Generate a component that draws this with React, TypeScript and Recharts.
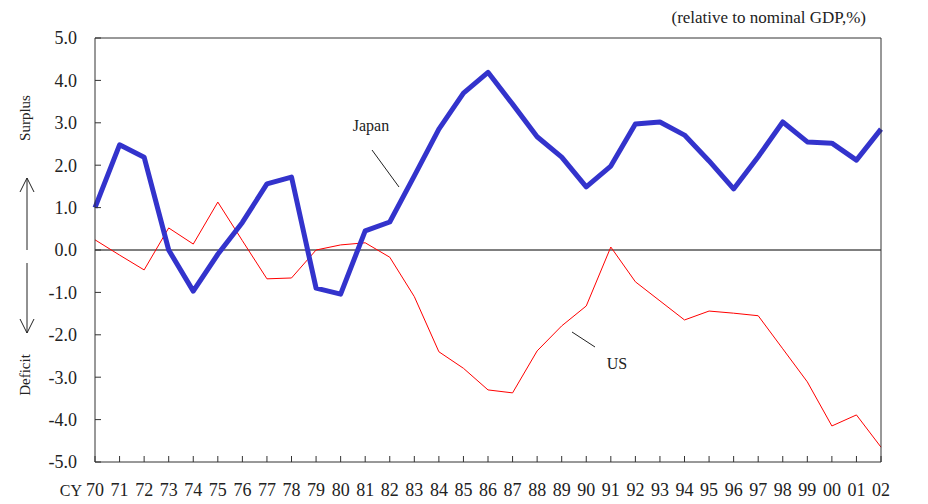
import { CartesianGrid, Line, LineChart, ReferenceLine, XAxis, YAxis } from "recharts";

const years = [
  "70", "71", "72", "73", "74", "75", "76", "77", "78", "79", "80",
  "81", "82", "83", "84", "85", "86", "87", "88", "89", "90", "91",
  "92", "93", "94", "95", "96", "97", "98", "99", "00", "01", "02"
];

const japan = [
  1.0, 2.48, 2.19, 0.0, -0.97, -0.1, 0.65, 1.56, 1.72, -0.9, -1.04,
  0.45, 0.66, 1.75, 2.85, 3.7, 4.19, 3.44, 2.67, 2.19, 1.49, 1.98,
  2.97, 3.02, 2.71, 2.1, 1.44, 2.2, 3.02, 2.55, 2.52, 2.12, 2.85
];

const us = [
  0.24, -0.12, -0.47, 0.52, 0.14, 1.13, 0.22, -0.68, -0.66, 0.0, 0.12,
  0.17, -0.17, -1.1, -2.4, -2.79, -3.3, -3.37, -2.38, -1.79, -1.32, 0.07,
  -0.75, -1.2, -1.65, -1.44, -1.49, -1.55, -2.33, -3.11, -4.15, -3.89, -4.65
];

const yTicks = [-5, -4, -3, -2, -1, 0, 1, 2, 3, 4, 5];

const data = years.map((year, i) => ({ year, japan: japan[i], us: us[i] }));

const font = '"Liberation Serif", "Times New Roman", serif';
const ink = "#222";
const axisColor = "#333";

export default function App() {
  const tickStyle = { fontFamily: font, fontSize: 18, fill: ink };

  return (
    <div style={{ position: "absolute", left: 0, top: 0, width: 928, height: 504, background: "#fff" }}>
      <LineChart width={928} height={504} data={data} margin={{ top: 38, right: 0, bottom: 0, left: 0 }}>
        <CartesianGrid horizontal={false} vertical={false} />
        <XAxis
          dataKey="year"
          interval={0}
          height={42}
          tickSize={-6}
          tickMargin={27}
          stroke={axisColor}
          tick={tickStyle}
        />
        <YAxis
          yAxisId="left"
          width={95}
          domain={[-5, 5]}
          ticks={yTicks}
          tickSize={-6}
          tickMargin={24}
          stroke={axisColor}
          tick={tickStyle}
          tickFormatter={(v: number) => v.toFixed(1)}
        />
        <YAxis
          yAxisId="right"
          orientation="right"
          width={47}
          domain={[-5, 5]}
          ticks={yTicks}
          tickSize={-6}
          tickMargin={18}
          stroke={axisColor}
          tick={{ ...tickStyle, textAnchor: "start" }}
          tickFormatter={(v: number) => v.toFixed(1)}
        />
        <ReferenceLine yAxisId="left" y={0} stroke="#000" strokeWidth={1} />
        <ReferenceLine yAxisId="left" y={5} stroke={axisColor} strokeWidth={1} />
        <Line
          yAxisId="left"
          dataKey="us"
          stroke="#ff0000"
          strokeWidth={1}
          dot={false}
          isAnimationActive={false}
        />
        <Line
          yAxisId="left"
          dataKey="japan"
          stroke="#3333cc"
          strokeWidth={5}
          strokeLinejoin="round"
          dot={false}
          isAnimationActive={false}
        />
      </LineChart>

      <svg
        width={928}
        height={504}
        style={{ position: "absolute", left: 0, top: 0, pointerEvents: "none" }}
      >
        <g fontFamily={font} fill={ink}>
          <text x={866} y={23} fontSize={17} textAnchor="end">(relative to nominal GDP,%)</text>
          <text x={82} y={496} fontSize={16} textAnchor="end">CY</text>
          <text x={371} y={131} fontSize={16} textAnchor="middle">Japan</text>
          <text x={617} y={369} fontSize={16} textAnchor="middle">US</text>
          <text transform="translate(30,118) rotate(-90)" fontSize={15} textAnchor="middle">Surplus</text>
          <text transform="translate(30,375) rotate(-90)" fontSize={15} textAnchor="middle">Deficit</text>
        </g>
        <g stroke={ink} strokeWidth={1} fill="none">
          <line x1={372} y1={150} x2={399} y2={187} />
          <line x1={572} y1={332} x2={595} y2={347} />
          <line x1={27} y1={178} x2={27} y2={250} />
          <polyline points="20,192 27,178 34,192" />
          <line x1={27} y1={263} x2={27} y2={333} />
          <polyline points="20,319 27,333 34,319" />
        </g>
      </svg>
    </div>
  );
}
